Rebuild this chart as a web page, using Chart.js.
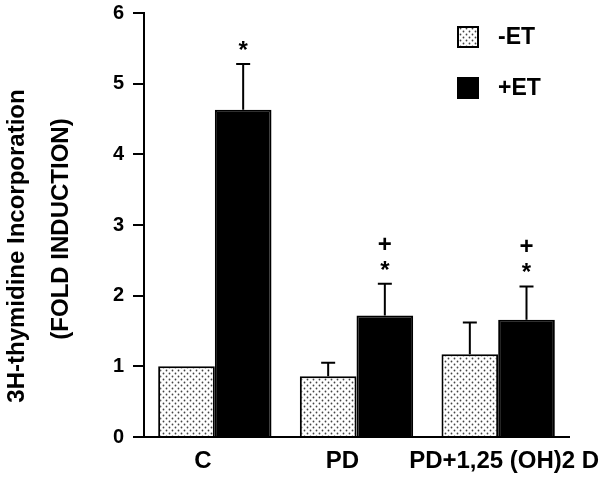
<!DOCTYPE html>
<html lang="en">
<head>
<meta charset="UTF-8">
<title>3H-thymidine incorporation</title>
<script src="https://cdn.jsdelivr.net/npm/chart.js@4.4.1/dist/chart.umd.min.js"></script>
<style>
  body { margin: 0; background: #fff; }
  #box { width: 604px; height: 486px; }
</style>
</head>
<body>
<div id="box"><canvas id="pizarra"></canvas></div>
<script>
// datos
const categorias = ['C', 'PD', 'PD+1,25 (OH)2 D'];
const sinET = [1.0, 0.86, 1.17];
const conET = [4.63, 1.72, 1.66];
const errSinET = [0, 0.19, 0.45];
const errConET = [0.65, 0.45, 0.47];
const marcaEstrella = ['*', '*', '*'];
const marcaCruz = ['', '+', '+'];
const yTicks = [0, 1, 2, 3, 4, 5, 6];

Chart.defaults.font.family = 'Arial, "Liberation Sans", sans-serif';
Chart.defaults.color = '#000';

// relleno punteado de las barras -ET
const puntos = (() => {
  const c = document.createElement('canvas');
  c.width = 6; c.height = 6;
  const g = c.getContext('2d');
  g.fillStyle = '#fff';
  g.fillRect(0, 0, 6, 6);
  g.fillStyle = '#444';
  [[1.5, 1.5], [4.5, 4.5]].forEach(([x, y]) => {
    g.beginPath(); g.arc(x, y, 0.9, 0, Math.PI * 2); g.fill();
  });
  return g.createPattern(c, 'repeat');
})();

const errores = [errSinET, errConET];

const extras = {
  id: 'extras',
  afterDatasetsDraw(chart) {
    const ctx = chart.ctx;
    const y = chart.scales.y;
    ctx.save();
    ctx.strokeStyle = '#000';
    ctx.lineWidth = 2;
    // barras de error (solo hacia arriba)
    chart.data.datasets.forEach((ds, di) => {
      chart.getDatasetMeta(di).data.forEach((bar, i) => {
        const e = errores[di][i];
        if (!e) return;
        const top = y.getPixelForValue(ds.data[i] + e);
        ctx.beginPath();
        ctx.moveTo(bar.x, bar.y);
        ctx.lineTo(bar.x, top);
        ctx.moveTo(bar.x - 7, top);
        ctx.lineTo(bar.x + 7, top);
        ctx.stroke();
      });
    });
    // marcas de significancia sobre +ET
    ctx.fillStyle = '#000';
    ctx.textAlign = 'center';
    ctx.textBaseline = 'alphabetic';
    ctx.font = 'bold 24px Arial, "Liberation Sans", sans-serif';
    chart.getDatasetMeta(1).data.forEach((bar, i) => {
      const top = y.getPixelForValue(conET[i] + errConET[i]);
      if (marcaEstrella[i]) ctx.fillText(marcaEstrella[i], bar.x, top - 20 + 14);
      if (marcaCruz[i]) ctx.fillText(marcaCruz[i], bar.x, top - 40 + 8);
    });
    ctx.restore();
  },
  afterDraw(chart) {
    const ctx = chart.ctx;
    const x = chart.scales.x;
    ctx.save();
    ctx.fillStyle = '#000';
    ctx.textBaseline = 'middle';
    // etiquetas de categorias
    ctx.font = 'bold 24px Arial, "Liberation Sans", sans-serif';
    ctx.textAlign = 'center';
    const corr = [-12, -14, 6];
    categorias.forEach((c, i) => {
      ctx.fillText(c, x.getPixelForValue(i) + corr[i], 461);
    });
    // leyenda
    ctx.font = 'bold 23px Arial, "Liberation Sans", sans-serif';
    ctx.textAlign = 'left';
    chart.data.datasets.forEach((ds, i) => {
      const by = 26 + i * 51;
      ctx.fillStyle = ds.backgroundColor;
      ctx.fillRect(457, by, 22, 22);
      ctx.lineWidth = 2;
      ctx.strokeStyle = '#000';
      ctx.strokeRect(458, by + 1, 20, 20);
      ctx.fillStyle = '#000';
      ctx.fillText(ds.label, 498, by + 12);
    });
    // titulo del eje y
    ctx.font = 'bold 24px Arial, "Liberation Sans", sans-serif';
    ctx.textAlign = 'center';
    ctx.translate(17, 246);
    ctx.rotate(-Math.PI / 2);
    ctx.fillText('3H-thymidine Incorporation', 0, 0);
    ctx.rotate(Math.PI / 2);
    ctx.translate(44, -17);
    ctx.rotate(-Math.PI / 2);
    ctx.fillText('(FOLD INDUCTION)', 0, 0);
    ctx.restore();
  }
};

new Chart(document.getElementById('pizarra'), {
  type: 'bar',
  data: {
    labels: categorias,
    datasets: [
      { label: '-ET', data: sinET, backgroundColor: puntos, borderColor: '#000', borderWidth: 2 },
      { label: '+ET', data: conET, backgroundColor: '#000', borderColor: '#000', borderWidth: 2 }
    ]
  },
  options: {
    responsive: true,
    maintainAspectRatio: false,
    animation: false,
    layout: { padding: { left: 0, right: 35, top: 13, bottom: 0 } },
    datasets: { bar: { categoryPercentage: 0.8, barPercentage: 1.0 } },
    plugins: { legend: { display: false }, tooltip: { enabled: false } },
    scales: {
      x: {
        z: 1,
        grid: { display: false },
        border: { display: true, color: '#000', width: 2 },
        ticks: { display: false },
        afterFit: (s) => { s.height = 49; }
      },
      y: {
        min: 0,
        max: 6,
        afterBuildTicks: (s) => { s.ticks = yTicks.map(v => ({ value: v })); },
        grid: { drawOnChartArea: false, drawTicks: true, tickLength: 11, lineWidth: 2, color: '#000' },
        border: { display: true, color: '#000', width: 2 },
        ticks: { padding: 9, font: { size: 20, weight: 'bold' }, color: '#000' },
        afterFit: (s) => { s.width = 144; s.paddingTop = 0; s.paddingBottom = 0; }
      }
    }
  },
  plugins: [extras]
});
</script>
</body>
</html>
